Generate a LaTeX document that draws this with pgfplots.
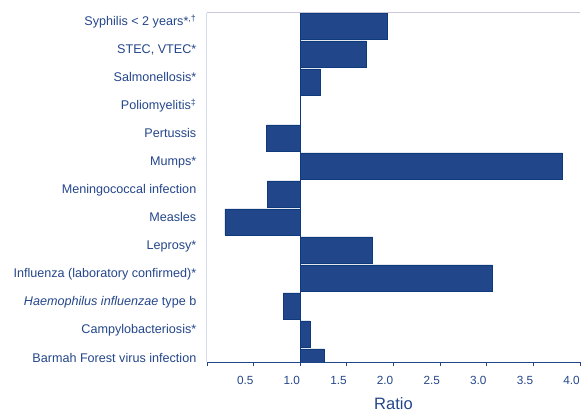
\documentclass[border=0pt]{standalone}
\usepackage{pgfplots}
\pgfplotsset{compat=1.18}
\usepackage{fontspec}
\setmainfont{Liberation Sans}
\definecolor{bar}{HTML}{21468A}
\definecolor{baredge}{HTML}{0E3A7C}
\definecolor{txt}{HTML}{24468A}
\definecolor{lft}{HTML}{D6DCEB}
\definecolor{topl}{HTML}{C9C9DA}
\begin{document}
\begin{tikzpicture}
\begin{axis}[
 at={(0,0)}, anchor=south west,
 scale only axis, width=373pt, height=349pt,
 xmin=-1, xmax=3, ymin=0, ymax=12.464,
 clip mode=individual,
 axis x line*=bottom, axis y line*=left,
 x axis line style={draw=bar, line width=0.9pt, -},
 y axis line style={draw=lft, line width=1pt, -},
 xtick={-1,-0.5,0,0.5,1,1.5,2,2.5,3},
 xticklabels={,0.5,1.0,1.5,2.0,2.5,3.0,3.5,4.0},
 ytick={0,1,2,3,4,5,6,7,8,9,10,11,12},
 yticklabels={Barmah Forest virus infection,Campylobacteriosis*,\textit{Haemophilus influenzae} type b,Influenza (laboratory confirmed)*,Leprosy*,Measles,Meningococcal infection,Mumps*,Pertussis,Poliomyelitis\textsuperscript{‡},Salmonellosis*,{STEC, VTEC*},Syphilis < 2 years*\textsuperscript{,†}},
 tick align=outside,
 ytick style={draw=none},
 major tick length=3.5pt,
 xtick style={draw=bar, line width=0.8pt},
 xticklabel style={font=\fontsize{11.8}{14}\selectfont, text=txt, anchor=base east, inner sep=0pt, yshift=-19pt},
 yticklabel style={font=\fontsize{12.6}{15}\selectfont, text=txt, anchor=base east, inner sep=0pt, xshift=-7pt},
 xlabel={Ratio},
 xlabel style={font=\fontsize{16.5}{19}\selectfont, text=txt, at={(axis description cs:0.5,0)}, anchor=base, inner sep=0pt, yshift=-47pt},
 xbar, bar width=0.929,
 extra x ticks={0}, extra x tick labels={},
 extra x tick style={grid=major, major grid style={draw=baredge, line width=0.7pt}, major tick length=0pt},
]
\addplot[xbar, fill=bar, draw=baredge, line width=0.5pt] table[x expr=\thisrow{r}-1, y=y] {
y r
0 1.26
1 1.105
2 0.818
3 3.064
4 1.777
5 0.193
6 0.647
7 3.81
8 0.64
9 1.00
10 1.215
11 1.71
12 1.93
};
\draw[topl, line width=1pt] (rel axis cs:0,1) -- (rel axis cs:1,1);
\end{axis}
\pgfresetboundingbox
\path[use as bounding box] (-207pt,-50pt) rectangle (374pt,362pt);
\end{tikzpicture}
\end{document}
